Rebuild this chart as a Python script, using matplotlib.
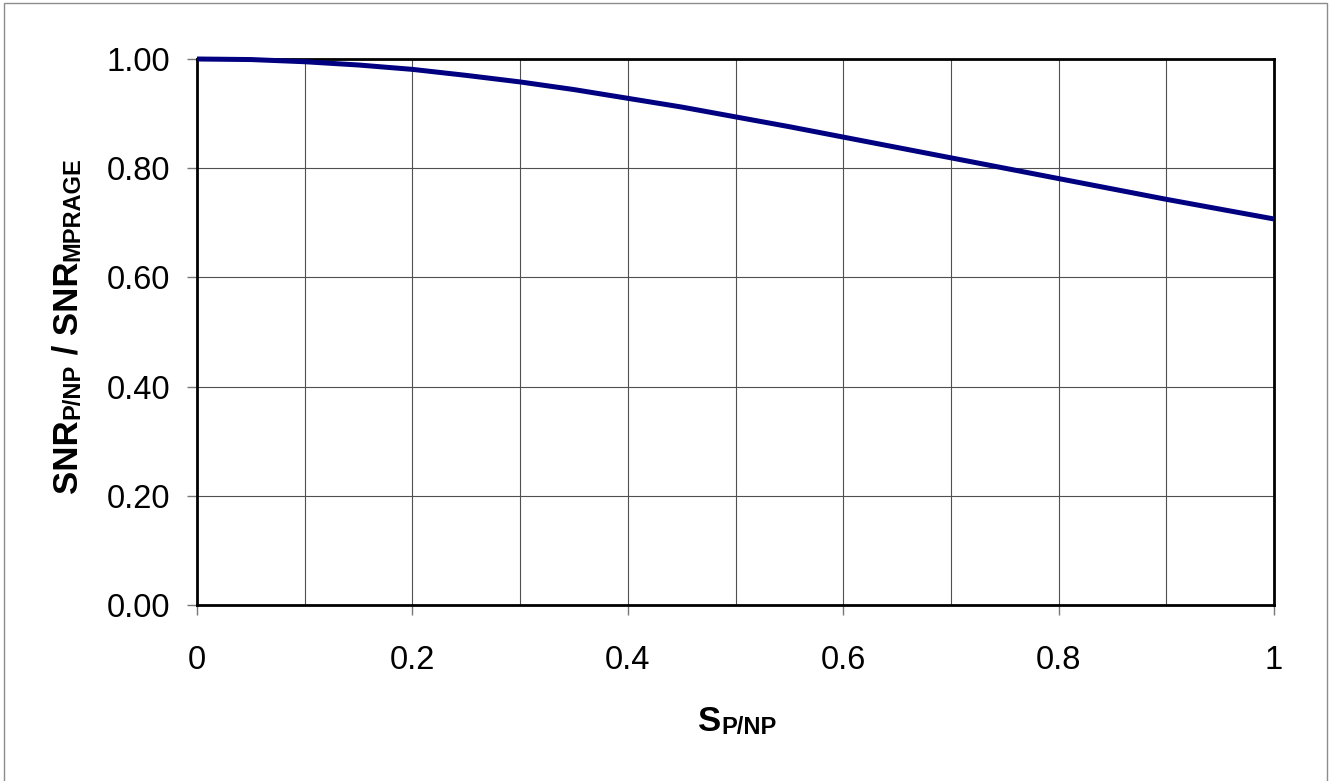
import matplotlib

matplotlib.use("Agg")
import matplotlib.pyplot as plt
from matplotlib.patches import Rectangle

# values
s_values = [0.00, 0.05, 0.10, 0.15, 0.20, 0.25, 0.30, 0.35, 0.40, 0.45, 0.50,
            0.55, 0.60, 0.65, 0.70, 0.75, 0.80, 0.85, 0.90, 0.95, 1.00]
snr_ratio = [1.000, 0.999, 0.995, 0.989, 0.981, 0.970, 0.958, 0.944, 0.928, 0.912, 0.894,
             0.876, 0.857, 0.838, 0.819, 0.800, 0.781, 0.762, 0.743, 0.725, 0.707]

x_ticks = [0, 0.2, 0.4, 0.6, 0.8, 1.0]
x_tick_labels = ["0", "0.2", "0.4", "0.6", "0.8", "1"]
x_grid = [0.1, 0.2, 0.3, 0.4, 0.5, 0.6, 0.7, 0.8, 0.9]
y_ticks = [0.0, 0.2, 0.4, 0.6, 0.8, 1.0]
y_tick_labels = ["0.00", "0.20", "0.40", "0.60", "0.80", "1.00"]

FONT = "Liberation Sans"
W, H = 1336, 781

fig = plt.figure(figsize=(W / 100, H / 100), dpi=100)
ax = fig.add_axes([197 / W, 1 - 605 / H, (1274 - 197) / W, (605 - 59) / H])

for xg in x_grid:
    ax.axvline(xg, color="#505050", lw=0.8, zorder=1)
for yg in y_ticks[1:-1]:
    ax.axhline(yg, color="#505050", lw=0.8, zorder=1)

ax.plot(s_values, snr_ratio, color="#000080", lw=3.6, solid_capstyle="butt", zorder=3, clip_on=False)

ax.set_xlim(0, 1)
ax.set_ylim(0, 1)
ax.set_xticks(x_ticks)
ax.set_xticklabels(x_tick_labels, fontfamily=FONT, fontsize=23.5)
ax.set_yticks(y_ticks)
ax.set_yticklabels(y_tick_labels, fontfamily=FONT, fontsize=23.5)
ax.tick_params(axis="x", direction="out", length=7.5, width=1, color="#777777", pad=21)
ax.tick_params(axis="y", direction="out", length=7.2, width=1, color="#777777", pad=12)
for sp in ax.spines.values():
    sp.set_linewidth(2)
    sp.set_color("black")

# outer chart border
fig.patches.append(Rectangle((4 / W, -0.02), (1327 - 4) / W, 1 - 3 / H + 0.02,
                             transform=fig.transFigure, fill=False, ec="#8c8c8c", lw=1))


def rich_label(x, y, parts, vertical=False):
    # parts: (text, fontsize, baseline shift in px)
    renderer = fig.canvas.get_renderer()
    widths = []
    for txt, size, _ in parts:
        t = fig.text(0, 0, txt, fontsize=size, fontfamily=FONT, fontweight="bold")
        widths.append(t.get_window_extent(renderer).width)
        t.remove()
    pos = -sum(widths) / 2
    for (txt, size, shift), w in zip(parts, widths):
        if vertical:
            px, py = x * W + shift, y * H + pos
        else:
            px, py = x * W + pos, y * H - shift
        fig.text(px / W, py / H, txt, fontsize=size, fontfamily=FONT, fontweight="bold",
                 ha="left", va="baseline", rotation=90 if vertical else 0,
                 rotation_mode="anchor")
        pos += w


# x label baseline around y=731 px, y label baseline around x=77 px
rich_label(737 / W, 1 - 731 / H, [("S", 25, 0), ("P/NP", 17, 3)])
rich_label(77 / W, 1 - 325 / H,
           [("SNR", 25, 0), ("P/NP", 17, 2), (" / SNR", 25, 0), ("MPRAGE", 17, 2)],
           vertical=True)

fig.savefig("out.png", dpi=100)
